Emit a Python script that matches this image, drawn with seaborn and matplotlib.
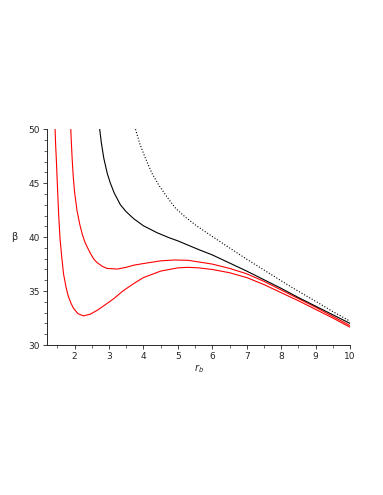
import numpy as np
import pandas as pd
import matplotlib
matplotlib.use("Agg")
import matplotlib.pyplot as plt
import matplotlib.ticker as mtick
import seaborn as sns

# curve values
red_low_r = [1.435, 1.45, 1.47, 1.49, 1.51, 1.54, 1.58, 1.63, 1.68, 1.75, 1.82, 1.9,
             1.97, 2.1, 2.26, 2.45, 2.65, 2.9, 3.14, 3.4, 3.72, 4.0, 4.5, 5.0, 5.3,
             5.6, 6.0, 6.5, 7.0, 7.5, 8.0, 8.5, 9.0, 9.5, 10.0]
red_low_b = [50, 48.6, 47.3, 45.7, 44.2, 42.0, 39.8, 38.1, 36.6, 35.4, 34.5, 33.85,
             33.4, 32.9, 32.7, 32.85, 33.2, 33.75, 34.3, 35.0, 35.7, 36.25, 36.85,
             37.15, 37.2, 37.15, 37.0, 36.7, 36.25, 35.6, 34.85, 34.1, 33.3, 32.5,
             31.65]

red_up_r = [1.89, 1.91, 1.93, 1.96, 2.0, 2.07, 2.15, 2.23, 2.3, 2.38, 2.46, 2.55,
            2.65, 2.8, 2.94, 3.24, 3.5, 3.72, 4.0, 4.5, 4.9, 5.3, 5.6, 6.0, 6.5, 7.0,
            7.5, 8.0, 8.5, 9.0, 9.5, 10.0]
red_up_b = [50, 48.6, 47.3, 45.7, 44.2, 42.5, 41.2, 40.2, 39.55, 39.0, 38.5, 38.0,
            37.65, 37.3, 37.1, 37.04, 37.2, 37.4, 37.55, 37.8, 37.88, 37.85, 37.7,
            37.5, 37.1, 36.6, 35.9, 35.1, 34.3, 33.5, 32.65, 31.8]

black_r = [2.73, 2.78, 2.85, 2.95, 3.04, 3.15, 3.33, 3.5, 3.72, 4.0, 4.4, 4.74, 5.0,
           5.6, 6.0, 6.5, 7.0, 7.5, 8.0, 8.5, 9.0, 9.5, 10.0]
black_b = [50, 48.7, 47.3, 45.9, 45.0, 44.1, 43.0, 42.35, 41.7, 41.05, 40.4, 39.95,
           39.65, 38.85, 38.35, 37.6, 36.85, 36.05, 35.25, 34.4, 33.6, 32.8, 32.0]

dot_r = [3.77, 3.9, 4.06, 4.25, 4.45, 4.7, 4.94, 5.2, 5.52, 5.91, 6.5, 7.0, 7.5, 8.0,
         8.5, 9.0, 9.5, 10.0]
dot_b = [50, 48.6, 47.3, 45.9, 44.8, 43.65, 42.65, 41.9, 41.1, 40.25, 39.0, 37.95,
         36.95, 35.95, 34.98, 34.05, 33.1, 32.2]

sns.set_style("ticks")
plt.rcParams["font.family"] = ["DejaVu Sans"]

fig = plt.figure(figsize=(3.83, 4.95), dpi=100)
ax = fig.add_axes([0.1227, 0.303, 0.7913, 0.436])

curves = [
    (red_low_r, red_low_b, "#ff0000", "-"),
    (red_up_r, red_up_b, "#ff0000", "-"),
    (black_r, black_b, "#000000", "-"),
    (dot_r, dot_b, "#000000", ":"),
]
for r, b, color, ls in curves:
    df = pd.DataFrame({"r": r, "b": b})
    sns.lineplot(data=df, x="r", y="b", sort=False, estimator=None, ax=ax,
                 color=color, linestyle=ls, linewidth=0.8)

ax.set_xlim(1.2, 10)
ax.set_ylim(30, 50)
ax.xaxis.set_major_locator(mtick.MultipleLocator(1))
ax.xaxis.set_minor_locator(mtick.MultipleLocator(0.5))
ax.yaxis.set_major_locator(mtick.MultipleLocator(5))
ax.yaxis.set_minor_locator(mtick.MultipleLocator(1))
ax.tick_params(which="major", length=3, width=0.6, labelsize=6.5, pad=2)
ax.tick_params(which="minor", length=2, width=0.5)
for s in ["top", "right"]:
    ax.spines[s].set_visible(False)
for s in ["left", "bottom"]:
    ax.spines[s].set_linewidth(0.7)

ax.set_xlabel(r"$r_b$", fontsize=7, labelpad=1)
ax.set_ylabel("β", fontsize=7, rotation=0, labelpad=10, va="center")

fig.savefig("out.png", dpi=100)
